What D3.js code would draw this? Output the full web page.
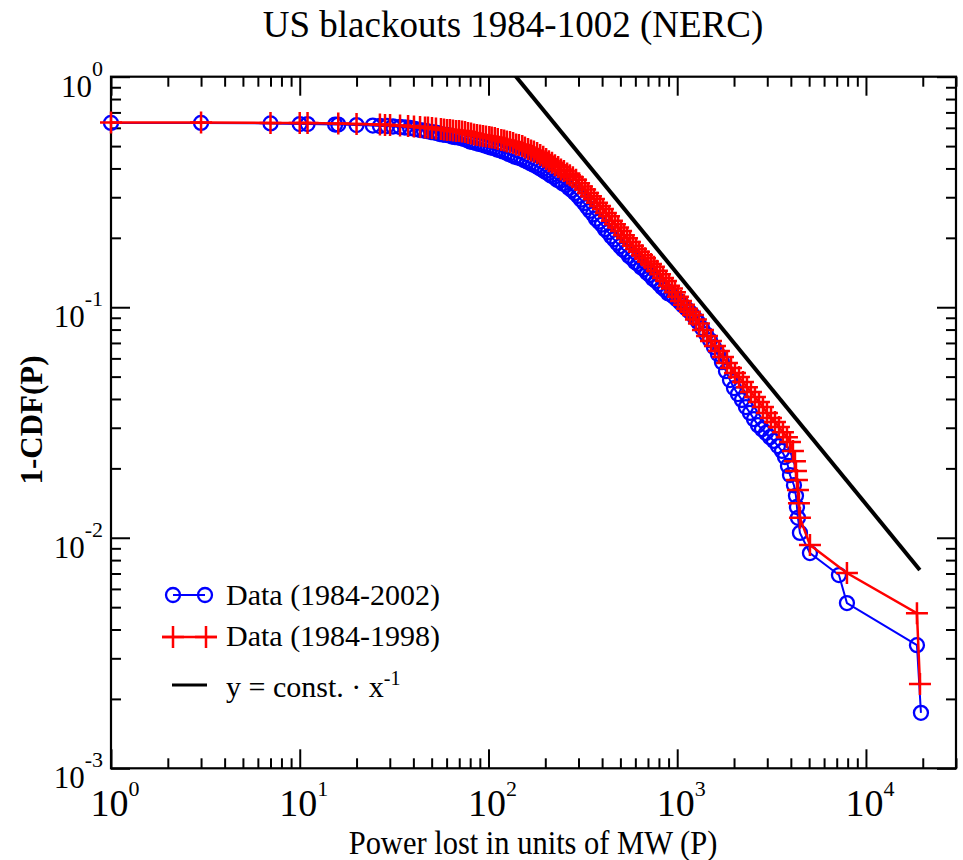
<!DOCTYPE html>
<html>
<head>
<meta charset="utf-8">
<script src="https://cdn.jsdelivr.net/npm/d3@7"></script>
<style>
  body { margin: 0; background: #fff; }
  svg { display: block; }
  text { font-family: "Liberation Serif", "Times New Roman", Times, serif; fill: #000; }
</style>
</head>
<body>
<svg id="chart" width="963" height="860"></svg>
<script>
// Complementary cumulative distribution of power lost per blackout, [MW, 1-CDF]
const blue2002 = [
  [1,0.630],[3,0.630],[7,0.627],[10,0.623],[11,0.623],[15.4,0.620],[16,0.620],[20,0.617],
  [24.4,0.614],[26.6,0.611],[29,0.611],[31.2,0.608],[34,0.605],[36.1,0.602],[38.4,0.599],
  [40.8,0.593],[43.4,0.587],[45.5,0.584],[47.2,0.581],[49.6,0.575],[51.4,0.573],[53.4,0.570],
  [55.3,0.564],[57.4,0.561],[59.5,0.559],[61.8,0.556],[64.1,0.550],[66.4,0.547],[68.9,0.545],
  [71.5,0.542],[74.2,0.537],[76.9,0.531],[79.8,0.523],[82.8,0.521],[85.8,0.516],[89.0,0.511],
  [92.4,0.508],[95.8,0.503],[99.4,0.498],[103,0.493],[107,0.491],[111,0.483],[115,0.481],
  [119,0.474],[124,0.469],[128,0.462],[133,0.457],[138,0.450],[143,0.446],[149,0.442],
  [154,0.435],[160,0.429],[166,0.422],[172,0.416],[179,0.410],[185,0.403],[192,0.396],
  [199,0.388],[207,0.381],[214,0.373],[222,0.367],[231,0.357],[239,0.353],[248,0.344],
  [258,0.339],[267,0.329],[277,0.322],[287,0.313],[298,0.304],[309,0.293],[321,0.283],
  [333,0.272],[345,0.262],[358,0.253],[371,0.242],[385,0.235],[399,0.228],[414,0.218],
  [430,0.212],[446,0.203],[462,0.197],[480,0.190],[497,0.184],[516,0.178],[535,0.174],
  [555,0.167],[576,0.163],[598,0.157],[620,0.154],[643,0.149],[667,0.146],[692,0.141],
  [717,0.138],[744,0.133],[772,0.130],[801,0.126],[830,0.122],[861,0.119],[894,0.115],
  [927,0.1135],[961,0.111],[997,0.108],[1034,0.1050],[1073,0.1018],[1113,0.0990],[1154,0.0962],
  [1197,0.0934],[1242,0.0898],[1288,0.0863],[1352,0.0812],[1420,0.0765],[1491,0.0720],
  [1565,0.0672],[1644,0.0627],[1726,0.0578],[1813,0.0528],[1904,0.0483],[1999,0.0446],
  [2098,0.0420],[2203,0.0396],[2313,0.0369],[2429,0.0348],[2551,0.0327],[2678,0.0308],
  [2812,0.0296],[2953,0.0285],[3100,0.0273],[3255,0.0263],[3418,0.0250],[3589,0.0238],
  [3724,0.0224],[3862,0.0205],[3958,0.0187],[4155,0.0169],[4258,0.0152],[4310,0.0136],
  [4363,0.0122],[4470,0.0105],[5050,0.00858],[7193,0.00689],[7930,0.00521],
  [18630,0.00342],[19560,0.00174]
];

const red1998 = [
  [1,0.633],[3,0.633],[7,0.630],[10,0.630],[11,0.630],[16,0.627],[20,0.623],[26.6,0.620],
  [28.3,0.617],[30.1,0.617],[34,0.614],[37.5,0.611],[40.3,0.608],[43.4,0.605],[46.1,0.602],
  [47.8,0.602],[50.2,0.599],[52.7,0.596],[56.0,0.593],[58.1,0.590],[60.3,0.587],[62.5,0.587],
  [64.8,0.584],[67.3,0.581],[69.8,0.581],[72.4,0.578],[75.1,0.576],[77.9,0.570],[80.8,0.567],
  [83.8,0.561],[86.9,0.559],[90.2,0.556],[93.5,0.553],[97.0,0.550],[101,0.547],[104,0.545],
  [108,0.542],[112,0.537],[117,0.531],[121,0.529],[125,0.523],[130,0.521],[135,0.516],
  [140,0.508],[145,0.505],[151,0.500],[156,0.493],[162,0.486],[168,0.478],[174,0.474],
  [181,0.467],[188,0.458],[195,0.449],[202,0.440],[209,0.430],[217,0.423],[225,0.413],
  [234,0.406],[242,0.396],[251,0.390],[261,0.380],[270,0.374],[280,0.366],[291,0.357],
  [302,0.345],[313,0.334],[325,0.324],[337,0.313],[349,0.303],[362,0.295],[376,0.284],
  [390,0.275],[404,0.267],[419,0.256],[435,0.248],[451,0.237],[468,0.229],[486,0.222],
  [504,0.214],[522,0.205],[542,0.199],[562,0.192],[583,0.185],[605,0.179],[627,0.174],
  [651,0.168],[675,0.163],[700,0.158],[726,0.154],[753,0.150],[781,0.144],[811,0.139],
  [841,0.134],[872,0.130],[905,0.124],[938,0.1205],[973,0.116],[1009,0.111],[1047,0.1065],
  [1086,0.1025],[1126,0.0985],[1168,0.0955],[1212,0.0925],[1257,0.0884],[1304,0.0850],
  [1369,0.0796],[1438,0.0750],[1510,0.0714],[1585,0.0679],[1664,0.0646],[1748,0.0608],
  [1835,0.0573],[1927,0.0545],[2023,0.0518],[2124,0.0498],[2230,0.0474],[2342,0.0450],
  [2459,0.0429],[2582,0.0408],[2711,0.0388],[2847,0.0369],[2989,0.0348],[3139,0.0331],
  [3296,0.0318],[3460,0.0302],[3633,0.0287],[3815,0.0273],[3958,0.0260],[4104,0.0238],
  [4206,0.0215],[4258,0.0195],[4310,0.0178],[4363,0.0161],[4416,0.0141],[4470,0.0122],
  [5050,0.0093],[7930,0.00703],[18630,0.00471],[19330,0.00232]
];

// Reference power law y = C / x
const powerLawConst = 140;
const powerLawX = [1, 19300];

const xDomain = [1, 3e4];
const yDomain = [1e-3, 1];
const xMajorExps = [0, 1, 2, 3, 4];
const yMajorExps = [0, -1, -2, -3];

const titleText = "US blackouts 1984-1002 (NERC)";
const xLabelText = "Power lost in units of MW (P)";
const yLabelText = "1-CDF(P)";
const legendItems = [
  { key: "blue", label: "Data (1984-2002)" },
  { key: "red",  label: "Data (1984-1998)" },
  { key: "law",  label: "y = const. \u00B7 x", sup: "-1" }
];

// ---- layout ----
const plot = { left: 111, right: 956, top: 76.7, bottom: 768.3 };
const BLUE = "#0000ff", RED = "#ff0000";

const svg = d3.select("#chart");
const x = d3.scaleLog().domain(xDomain).range([plot.left, plot.right]);
const y = d3.scaleLog().domain(yDomain).range([plot.bottom, plot.top]);

svg.append("defs").append("clipPath").attr("id", "plotClip")
  .append("rect")
  .attr("x", plot.left).attr("y", plot.top)
  .attr("width", plot.right - plot.left).attr("height", plot.bottom - plot.top);

// ---- ticks (inward on all four sides) ----
const isMajor = v => Math.abs(Math.log10(v) - Math.round(Math.log10(v))) < 1e-9;
const xAll = x.ticks();
const yAll = y.ticks();
const xMaj = xAll.filter(isMajor), xMin = xAll.filter(v => !isMajor(v));
const yMaj = yAll.filter(isMajor), yMin = yAll.filter(v => !isMajor(v));

function tickLayer(axisFn, scale, vals, size, transform) {
  const g = svg.append("g").attr("transform", transform)
    .call(axisFn(scale).tickValues(vals).tickSize(-size).tickFormat(""));
  g.select(".domain").remove();
  g.selectAll(".tick line").attr("stroke", "#000").attr("stroke-width", 2);
}
tickLayer(d3.axisBottom, x, xMaj, 19, `translate(0,${plot.bottom})`);
tickLayer(d3.axisBottom, x, xMin, 10, `translate(0,${plot.bottom})`);
tickLayer(d3.axisTop, x, xMaj, 19, `translate(0,${plot.top})`);
tickLayer(d3.axisTop, x, xMin, 10, `translate(0,${plot.top})`);
tickLayer(d3.axisLeft, y, yMaj, 19, `translate(${plot.left},0)`);
tickLayer(d3.axisLeft, y, yMin, 10, `translate(${plot.left},0)`);
tickLayer(d3.axisRight, y, yMaj, 19, `translate(${plot.right},0)`);
tickLayer(d3.axisRight, y, yMin, 10, `translate(${plot.right},0)`);

svg.append("rect")
  .attr("x", plot.left).attr("y", plot.top)
  .attr("width", plot.right - plot.left).attr("height", plot.bottom - plot.top)
  .attr("fill", "none").attr("stroke", "#000").attr("stroke-width", 2.2);

// ---- tick labels: 10 with superscript exponent ----
function powerLabel(px, py, exp, size, supSize, supRise, anchor) {
  const t = svg.append("text").attr("x", px).attr("y", py)
    .attr("text-anchor", anchor).style("font-size", size + "px");
  t.append("tspan").text("10");
  t.append("tspan").attr("dy", -supRise).style("font-size", supSize + "px").text(exp);
}
xMajorExps.forEach(e => powerLabel(x(Math.pow(10, e)) + 4, plot.bottom + 48, e, 38, 22, 20, "middle"));
yMajorExps.forEach(e => powerLabel(103, y(Math.pow(10, e)) + 20, e, 31, 22, 21, "end"));

// ---- titles ----
svg.append("text").attr("x", 513).attr("y", 37).attr("text-anchor", "middle")
  .style("font-size", "37px").text(titleText);
svg.append("text").attr("transform", "translate(533,854) scale(1,1.1)")
  .attr("text-anchor", "middle").style("font-size", "30.5px").text(xLabelText);
svg.append("text").attr("transform", "translate(42,420) rotate(-90)")
  .attr("text-anchor", "middle").style("font-size", "31px").style("font-weight", "bold")
  .text(yLabelText);

// ---- series ----
const line = d3.line().x(d => x(d[0])).y(d => y(d[1]));
const plusPath = "M-11,0H11M0,-11V11";

svg.append("path").datum(blue2002).attr("d", line)
  .attr("fill", "none").attr("stroke", BLUE).attr("stroke-width", 2);
svg.append("g").selectAll("circle").data(blue2002).join("circle")
  .attr("cx", d => x(d[0])).attr("cy", d => y(d[1])).attr("r", 7)
  .attr("fill", "none").attr("stroke", BLUE).attr("stroke-width", 2.3);

svg.append("path").datum(red1998).attr("d", line)
  .attr("fill", "none").attr("stroke", RED).attr("stroke-width", 2.5);
svg.append("g").selectAll("path").data(red1998).join("path")
  .attr("transform", d => `translate(${x(d[0])},${y(d[1])})`)
  .attr("d", plusPath).attr("fill", "none").attr("stroke", RED).attr("stroke-width", 2.5);

// power law reference
svg.append("path")
  .datum(powerLawX.map(v => [v, powerLawConst / v]))
  .attr("d", line).attr("clip-path", "url(#plotClip)")
  .attr("fill", "none").attr("stroke", "#000").attr("stroke-width", 4);

// ---- legend ----
const legend = svg.append("g");
const rows = [595, 637, 685];
// blue: circle - circle
legend.append("line").attr("x1", 173).attr("x2", 205).attr("y1", rows[0]).attr("y2", rows[0])
  .attr("stroke", BLUE).attr("stroke-width", 2);
[173, 205].forEach(cx => legend.append("circle").attr("cx", cx).attr("cy", rows[0]).attr("r", 7)
  .attr("fill", "none").attr("stroke", BLUE).attr("stroke-width", 2.3));
// red: plus - plus
legend.append("line").attr("x1", 162).attr("x2", 217).attr("y1", rows[1]).attr("y2", rows[1])
  .attr("stroke", RED).attr("stroke-width", 2.5);
[173, 206].forEach(cx => legend.append("path").attr("transform", `translate(${cx},${rows[1]})`)
  .attr("d", plusPath).attr("fill", "none").attr("stroke", RED).attr("stroke-width", 2.5));
// black line
legend.append("line").attr("x1", 172).attr("x2", 207).attr("y1", rows[2]).attr("y2", rows[2])
  .attr("stroke", "#000").attr("stroke-width", 3);

const textBase = [605, 646, 697];
legendItems.forEach((item, i) => {
  const t = legend.append("text").attr("x", 226).attr("y", textBase[i]).style("font-size", "30px");
  t.append("tspan").text(item.label);
  if (item.sup) t.append("tspan").attr("dy", -12).style("font-size", "20px").text(item.sup);
});
</script>
</body>
</html>
